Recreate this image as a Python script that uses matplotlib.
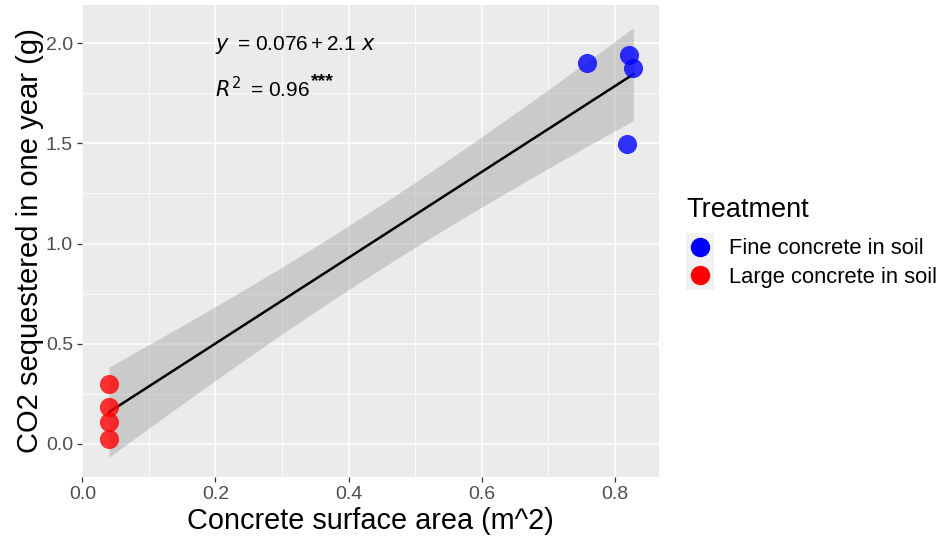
import numpy as np
import matplotlib
matplotlib.use("Agg")
import matplotlib.pyplot as plt
from matplotlib.lines import Line2D
from matplotlib.patches import Rectangle
from matplotlib.legend_handler import HandlerBase

plt.rcParams['font.family'] = ['Liberation Sans', 'DejaVu Sans']

# Data
fine_x = [0.758, 0.822, 0.828, 0.818]
fine_y = [1.900, 1.940, 1.875, 1.495]
large_x = [0.04, 0.04, 0.04, 0.04]
large_y = [0.300, 0.185, 0.110, 0.025]
treatments = ["Fine concrete in soil", "Large concrete in soil"]
colors = ["#0000FF", "#FF0000"]
x_ticks = [0.0, 0.2, 0.4, 0.6, 0.8]
y_ticks = [0.0, 0.5, 1.0, 1.5, 2.0]
eq_text = r"$\it{y}\,$ = 0.076$\,$+$\,$2.1 $\it{x}$"
r2_text = r"$\it{R}^2\,$ = 0.96"
r2_sig = "***"

W, H = 943, 546
fig = plt.figure(figsize=(W/100, H/100), dpi=100)
L, R, T, B = 82, 659, 5, 477
ax = fig.add_axes([L/W, 1-B/H, (R-L)/W, (B-T)/H])
ax.set_facecolor("#EBEBEB")
for s in ax.spines.values():
    s.set_visible(False)

# linear fit + 95% CI from data
x = np.array(large_x + fine_x)
y = np.array(large_y + fine_y)
n = len(x)
b1, b0 = np.polyfit(x, y, 1)
res = y - (b0 + b1 * x)
sigma = np.sqrt(np.sum(res**2) / (n - 2))
sxx = np.sum((x - x.mean())**2)
xs = np.linspace(x.min(), x.max(), 100)
ys = b0 + b1 * xs
se = sigma * np.sqrt(1/n + (xs - x.mean())**2 / sxx)
t = 2.446912  # t(0.975, df=6)
ax.fill_between(xs, ys - t*se, ys + t*se, color="#999999", alpha=0.4, lw=0, zorder=2)
ax.plot(xs, ys, color="black", lw=1.8, zorder=3)

ax.scatter(fine_x, fine_y, s=190, color=colors[0], alpha=0.8, lw=0, zorder=4)
ax.scatter(large_x, large_y, s=190, color=colors[1], alpha=0.8, lw=0, zorder=4)

ax.set_xlim(-0.0005, 0.8665)
ax.set_ylim(-0.165, 2.19)
ax.set_xticks(x_ticks)
ax.set_yticks(y_ticks)
ax.set_xticklabels([f"{v:.1f}" for v in x_ticks])
ax.set_yticklabels([f"{v:.1f}" for v in y_ticks])
ax.set_xticks([0.1, 0.3, 0.5, 0.7], minor=True)
ax.set_yticks([0.25, 0.75, 1.25, 1.75], minor=True)
ax.grid(which="major", color="white", lw=1.1)
ax.grid(which="minor", color="white", lw=0.55)
ax.set_axisbelow(True)
ax.tick_params(which="major", length=3.5, width=0.9, color="#333333",
               labelsize=14, labelcolor="#4D4D4D", pad=3)
ax.tick_params(which="minor", length=0)

ax.set_xlabel("Concrete surface area (m^2)", fontsize=20.8, labelpad=3)
ax.set_ylabel("CO2 sequestered in one year (g)", fontsize=21, labelpad=1.5)

ax.text(0.2, 1.9925, eq_text, fontsize=15, va="center", ha="left", zorder=5)
r2 = ax.text(0.2, 1.775, r2_text, fontsize=15, va="center", ha="left", zorder=5)
ax.annotate(r2_sig, xy=(1.0, 0.5), xycoords=r2, xytext=(0.5, 5.0), textcoords="offset points",
            fontsize=14, fontweight="bold", va="center", ha="left", zorder=5)


class KeyHandler(HandlerBase):
    def create_artists(self, legend, orig_handle, xdescent, ydescent,
                       width, height, fontsize, trans):
        rect = Rectangle((-xdescent, -ydescent), width, height,
                         facecolor="#F2F2F2", edgecolor="none", transform=trans)
        m = Line2D([width/2 - xdescent], [height/2 - ydescent], marker="o", ls="",
                   markersize=14, color=orig_handle.get_color(), mew=0, transform=trans)
        return [rect, m]


handles = [Line2D([], [], marker="o", ls="", color=c) for c in colors]
leg = fig.legend(handles, treatments, title="Treatment", loc="upper left",
                 bbox_to_anchor=(686/W, 1-197/H), frameon=False,
                 fontsize=15.8, title_fontsize=19.5, handletextpad=0.68,
                 labelspacing=0.0, handlelength=1.28, handleheight=1.62,
                 alignment="left", borderpad=0.0, borderaxespad=0.0,
                 handler_map={Line2D: KeyHandler()})
leg._legend_box.sep = 7

fig.savefig("out.png", dpi=100)
